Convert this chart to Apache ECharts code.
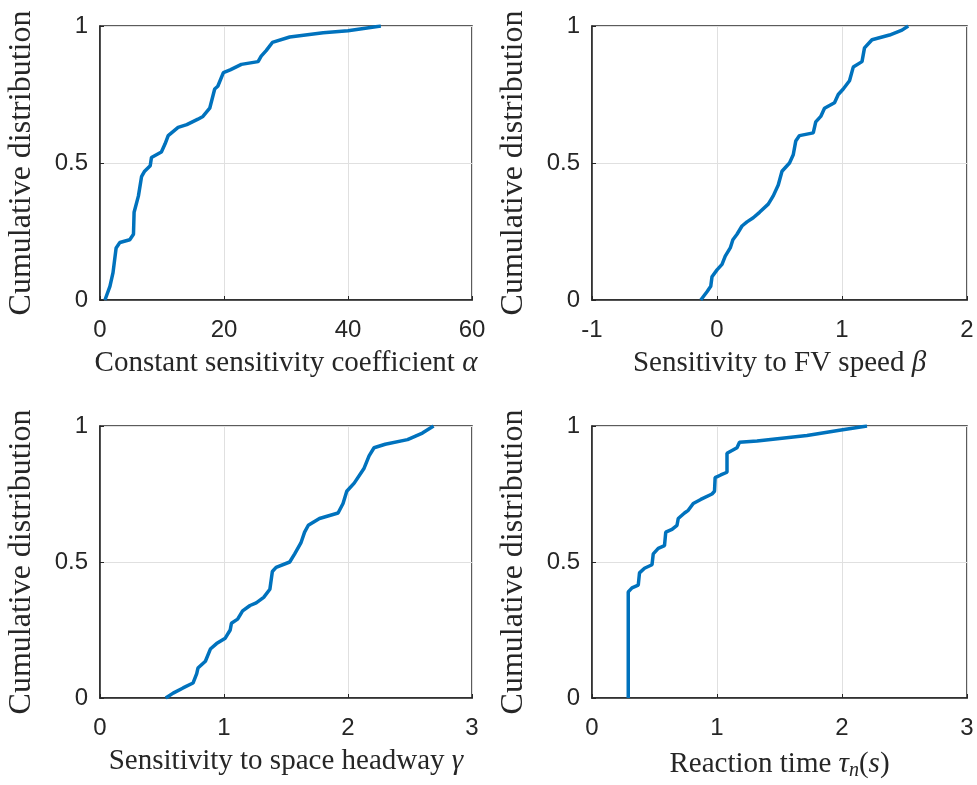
<!DOCTYPE html>
<html>
<head>
<meta charset="utf-8">
<script src="https://cdn.jsdelivr.net/npm/echarts@6/dist/echarts.min.js"></script>
<style>
  html, body { margin: 0; padding: 0; background: #fff; }
  #chart { width: 977px; height: 785px; }
</style>
</head>
<body>
<div id="chart"></div>
<script>
// alpha - constant sensitivity coefficient
const alphaX = [0.8, 1.6, 2.1, 2.6, 3.2, 4.8, 5.4, 5.5, 6.2, 6.7, 7.2, 8.1, 8.3, 9.9, 10.5, 11, 12.6, 14, 15.8, 16.6, 17.7, 18.5, 19, 19.9, 21, 22.8, 25.5, 26, 26.8, 27.8, 30.6, 36, 40, 45.3];
const alphaY = [0, 0.05, 0.1, 0.19, 0.21, 0.22, 0.24, 0.32, 0.38, 0.45, 0.47, 0.49, 0.52, 0.54, 0.57, 0.6, 0.63, 0.64, 0.66, 0.67, 0.7, 0.77, 0.78, 0.83, 0.84, 0.86, 0.87, 0.89, 0.91, 0.94, 0.96, 0.975, 0.983, 1];
// beta - sensitivity to FV speed
const betaX = [-0.13, -0.08, -0.05, -0.04, 0, 0.04, 0.066, 0.106, 0.127, 0.16, 0.2, 0.24, 0.29, 0.34, 0.41, 0.45, 0.49, 0.52, 0.58, 0.61, 0.63, 0.66, 0.77, 0.79, 0.83, 0.86, 0.94, 0.97, 1.01, 1.06, 1.09, 1.16, 1.18, 1.24, 1.38, 1.48, 1.53];
const betaY = [0, 0.03, 0.05, 0.085, 0.11, 0.13, 0.16, 0.19, 0.22, 0.24, 0.27, 0.285, 0.3, 0.32, 0.35, 0.38, 0.42, 0.47, 0.5, 0.53, 0.58, 0.6, 0.61, 0.65, 0.67, 0.7, 0.72, 0.75, 0.77, 0.8, 0.85, 0.87, 0.92, 0.95, 0.967, 0.985, 1];
// gamma - sensitivity to space headway
const gammaX = [0.53, 0.59, 0.67, 0.75, 0.78, 0.79, 0.85, 0.89, 0.94, 1.01, 1.05, 1.06, 1.11, 1.15, 1.21, 1.26, 1.32, 1.37, 1.39, 1.42, 1.53, 1.57, 1.62, 1.65, 1.68, 1.77, 1.92, 1.96, 1.99, 2.05, 2.13, 2.17, 2.21, 2.3, 2.48, 2.6, 2.69];
const gammaY = [0, 0.018, 0.037, 0.055, 0.09, 0.11, 0.135, 0.18, 0.2, 0.22, 0.25, 0.275, 0.29, 0.32, 0.34, 0.35, 0.37, 0.4, 0.465, 0.48, 0.5, 0.53, 0.57, 0.61, 0.635, 0.66, 0.68, 0.715, 0.76, 0.79, 0.845, 0.89, 0.92, 0.933, 0.95, 0.974, 1];
// tau - reaction time
const tauX = [0.29, 0.29, 0.32, 0.37, 0.38, 0.42, 0.48, 0.49, 0.53, 0.58, 0.59, 0.64, 0.68, 0.69, 0.74, 0.77, 0.81, 0.87, 0.96, 0.98, 0.985, 1.03, 1.08, 1.08, 1.12, 1.16, 1.18, 1.32, 1.72, 1.98, 2.2];
const tauY = [0, 0.39, 0.405, 0.415, 0.46, 0.477, 0.49, 0.53, 0.55, 0.56, 0.61, 0.62, 0.635, 0.66, 0.68, 0.69, 0.715, 0.73, 0.75, 0.76, 0.81, 0.82, 0.83, 0.9, 0.91, 0.92, 0.94, 0.945, 0.965, 0.984, 1];

const yTicks = ['0', '0.5', '1'];

const pair = (xs, ys) => xs.map((x, i) => [x, ys[i]]);

const grids = [
  { left: 100, top: 26, width: 372, height: 274 },
  { left: 592, top: 26, width: 375, height: 274 },
  { left: 100, top: 426, width: 372, height: 272 },
  { left: 592, top: 426, width: 375, height: 272 },
];
const xRanges = [[0, 60, 20], [-1, 2, 1], [0, 3, 1], [0, 3, 1]];

const serif = 'Liberation Serif';
const sans = 'Liberation Sans';
const ink = '#262626';
const nameStyle = {
  fontFamily: serif, fontSize: 29, color: ink,
  rich: {
    i: { fontFamily: serif, fontSize: 29, fontStyle: 'italic', color: ink },
    sub: { fontFamily: serif, fontSize: 20, fontStyle: 'italic', color: ink, verticalAlign: 'bottom', padding: [14, 0, 0, 0] },
  },
};
const xNames = [
  'Constant sensitivity coefficient {i|α}',
  'Sensitivity to FV speed {i|β}',
  'Sensitivity to space headway {i|γ}',
  'Reaction time {i|τ}{sub|n}(​{i|s})',
];
const seriesData = [pair(alphaX, alphaY), pair(betaX, betaY), pair(gammaX, gammaY), pair(tauX, tauY)];

const chart = echarts.init(document.getElementById('chart'));
chart.setOption({
  animation: false,
  grid: grids.map(g => ({ ...g, show: true, borderColor: ink, borderWidth: 1.5, containLabel: false })),
  xAxis: xRanges.map((r, i) => ({
    type: 'value', gridIndex: i, min: r[0], max: r[1], interval: r[2],
    name: xNames[i], nameLocation: 'middle', nameGap: 49, nameTextStyle: nameStyle,
    axisLine: { show: true, onZero: false, lineStyle: { color: ink, width: 1.5 } },
    axisTick: { show: true, inside: true, length: 4, lineStyle: { color: ink } },
    axisLabel: { fontFamily: sans, fontSize: 24, color: ink, margin: 18 },
    splitLine: { show: true, lineStyle: { color: '#e0e0e0', width: 1 } },
  })),
  yAxis: grids.map((g, i) => ({
    type: 'value', gridIndex: i, min: 0, max: 1, interval: 0.5,
    name: 'Cumulative distribution', nameLocation: 'middle', nameGap: 62,
    nameTextStyle: { fontFamily: serif, fontSize: 32, color: ink },
    axisLine: { show: true, onZero: false, lineStyle: { color: ink, width: 1.5 } },
    axisTick: { show: true, inside: true, length: 4, lineStyle: { color: ink } },
    axisLabel: { fontFamily: sans, fontSize: 24, color: ink, margin: 12,
      formatter: v => yTicks[Math.round(v * 2)] },
    splitLine: { show: true, lineStyle: { color: '#e0e0e0', width: 1 } },
  })),
  series: seriesData.map((d, i) => ({
    type: 'line', xAxisIndex: i, yAxisIndex: i, data: d,
    showSymbol: false, smooth: false,
    lineStyle: { color: '#0072BD', width: 3.5 },
  })),
});
</script>
</body>
</html>
